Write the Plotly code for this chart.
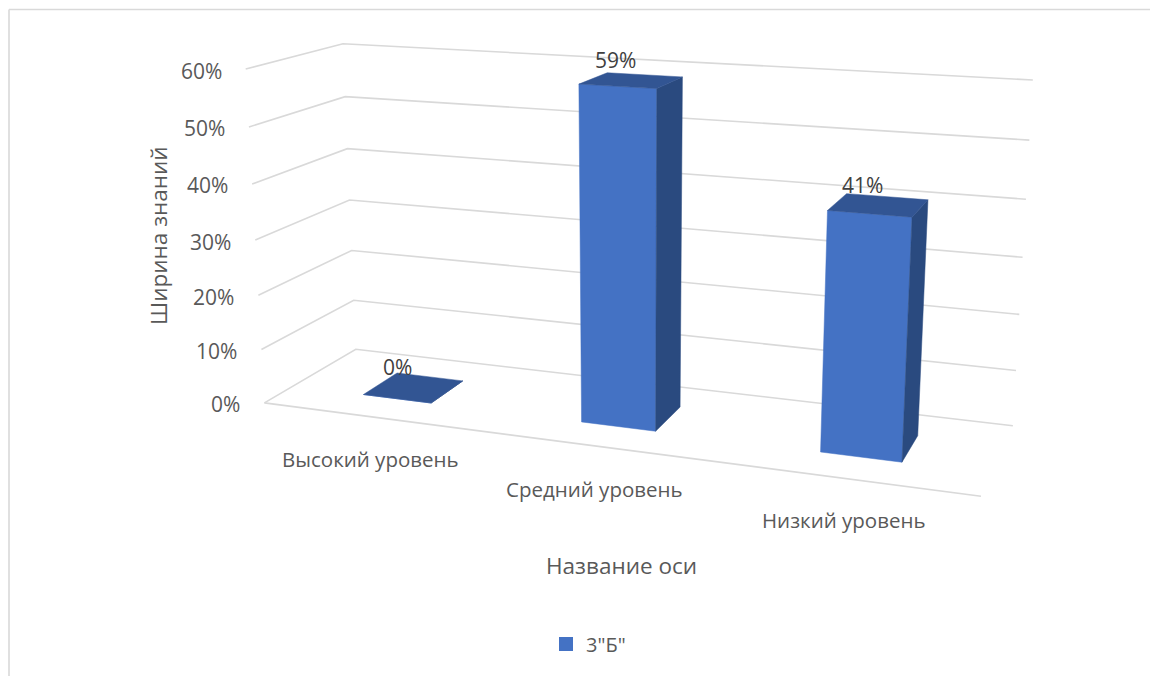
import numpy as np
import plotly.graph_objects as go

# ---------- data ----------
categories = ["Высокий уровень", "Средний уровень", "Низкий уровень"]
series_name = '3"Б"'
values = [0.0, 0.59, 0.41]
z_ticks = [0.0, 0.1, 0.2, 0.3, 0.4, 0.5, 0.6]
z_tick_labels = ["0%", "10%", "20%", "30%", "40%", "50%", "60%"]
value_labels = ["0%", "59%", "41%"]

# ---------- view calibration: (category pos, depth, value) -> page pixel ----------
WORLD = [(0,0,0),(3,0,0),(0,1,0),(3,1,0),(0,0,.6),(0,1,.6),(3,1,.6),(0,0,.5),(0,1,.5),(3,1,.5)]
PIXEL = [(265,403),(981,496),(355,349),(1013,426),(245,69),(343,43.5),(1033,80),(249,127),(346,97),(1029,140)]

def fit_camera(world, pixel):
    A, b = [], []
    for (X, Y, Z), (u, v) in zip(world, pixel):
        A.append([X, Y, Z, 1, 0, 0, 0, 0, -u*X, -u*Y, -u*Z]); b.append(u)
        A.append([0, 0, 0, 0, X, Y, Z, 1, -v*X, -v*Y, -v*Z]); b.append(v)
    p = np.linalg.lstsq(np.array(A, float), np.array(b, float), rcond=None)[0]
    return np.append(p, 1).reshape(3, 4)

P = fit_camera(WORLD, PIXEL)

def project(X, Y, Z):
    u, v, w = P @ np.array([X, Y, Z, 1.0])
    return u / w, v / w

BAR_HALF = 0.16
DEPTH_FRONT, DEPTH_BACK = 0.30, 0.69
FRONT, SIDE, TOP = "#4472C4", "#2A4A7F", "#325593"
GRID = "#D9D9D9"
TEXT = "#595959"
FONT = "Open Sans"

def poly(points):
    xy = [project(*p) for p in points]
    xy.append(xy[0])
    return [a for a, _ in xy] + [None], [b for _, b in xy] + [None]

fig = go.Figure()

# gridlines on the two walls and the floor edge
gx, gy = [], []
for z in z_ticks:
    for p in [(0, 0, z), (0, 1, z), (3, 1, z)]:
        u, v = project(*p); gx.append(u); gy.append(v)
    gx.append(None); gy.append(None)
for p in [(0, 0, 0), (3, 0, 0)]:
    u, v = project(*p); gx.append(u); gy.append(v)
fig.add_trace(go.Scatter(x=gx, y=gy, mode="lines", line=dict(color=GRID, width=1.6),
                         showlegend=False, hoverinfo="skip"))

# bars
for face, color in [("front", FRONT), ("side", SIDE), ("top", TOP)]:
    xs, ys = [], []
    for i, val in enumerate(values):
        a, b = i + 0.5 - BAR_HALF, i + 0.5 + BAR_HALF
        f, k = DEPTH_FRONT, DEPTH_BACK
        if face == "front":
            pts = [(a, f, 0), (b, f, 0), (b, f, val), (a, f, val)]
        elif face == "side":
            pts = [(b, f, 0), (b, k, 0), (b, k, val), (b, f, val)]
        else:
            pts = [(a, f, val), (b, f, val), (b, k, val), (a, k, val)]
        px_, py_ = poly(pts)
        xs += px_; ys += py_
    fig.add_trace(go.Scatter(x=xs, y=ys, mode="lines", fill="toself", fillcolor=color,
                             line=dict(color=color, width=0.5), showlegend=False, hoverinfo="skip"))

# legend entry
fig.add_trace(go.Scatter(x=[None], y=[None], mode="markers", name=series_name,
                         marker=dict(symbol="square", size=14, color=FRONT)))

ann = []
for z, lab in zip(z_ticks, z_tick_labels):
    u, v = project(0, 0, z)
    ann.append(dict(x=u - 22, y=v + 1.5, text=lab, xanchor="right", yanchor="middle",
                    showarrow=False, font=dict(family=FONT, size=21, color=TEXT)))
for i, (val, lab) in enumerate(zip(values, value_labels)):
    u, v = project(i + 0.5, (DEPTH_FRONT + DEPTH_BACK) / 2, val)
    ann.append(dict(x=u - 16, y=v - 20.5, text=lab, xanchor="center", yanchor="middle",
                    showarrow=False, font=dict(family=FONT, size=21, color="#404040")))
for lab, (u, v) in zip(categories, [(370, 459), (594, 489), (844, 520)]):
    ann.append(dict(x=u, y=v, text=lab, xanchor="center", yanchor="middle",
                    showarrow=False, font=dict(family=FONT, size=20.5, color=TEXT)))
ann.append(dict(x=158, y=236, text="Ширина знаний", textangle=-90, xanchor="center", yanchor="middle",
                showarrow=False, font=dict(family=FONT, size=22.5, color=TEXT)))
ann.append(dict(x=621, y=565, text="Название оси", xanchor="center", yanchor="middle",
                showarrow=False, font=dict(family=FONT, size=22.5, color=TEXT)))

shapes = [
    dict(type="line", x0=9, x1=9, y0=9.5, y1=676, line=dict(color=GRID, width=1.6)),
    dict(type="line", x0=9, x1=1150, y0=9.5, y1=9.5, line=dict(color=GRID, width=1.6)),
]

fig.update_layout(
    width=1150, height=676, margin=dict(l=0, r=0, t=0, b=0),
    paper_bgcolor="white", plot_bgcolor="white",
    xaxis=dict(range=[0, 1150], visible=False, fixedrange=True),
    yaxis=dict(range=[676, 0], visible=False, fixedrange=True),
    annotations=ann, shapes=shapes,
    showlegend=True,
    legend=dict(x=546 / 1150, y=1 - 644 / 676, xanchor="left", yanchor="middle", orientation="h",
                font=dict(family=FONT, size=20, color=TEXT), itemwidth=30),
)
fig.write_html("out.html", post_script="document.body.style.margin='0';",
               config={"displayModeBar": False})
